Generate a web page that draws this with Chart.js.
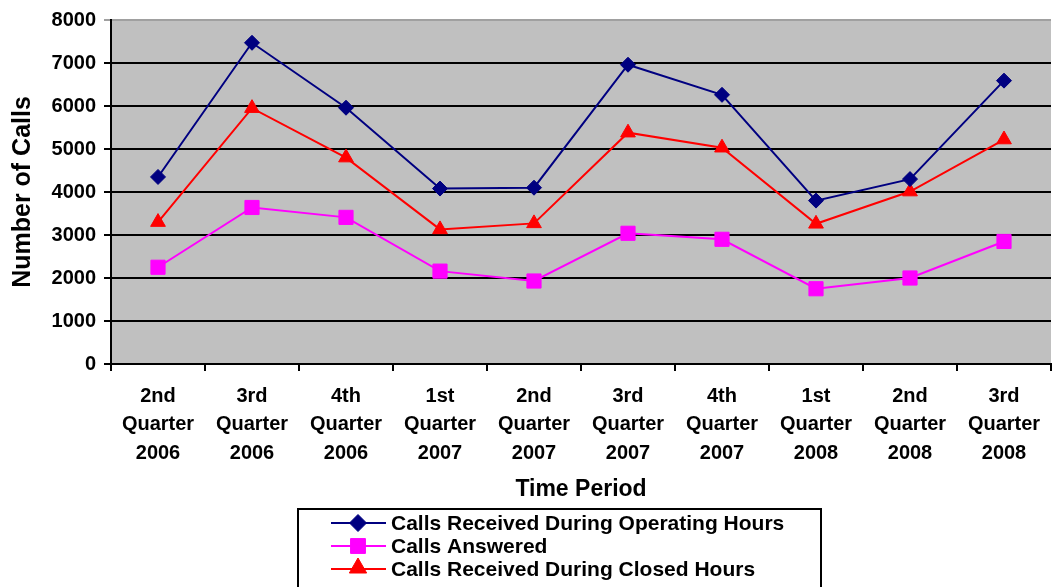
<!DOCTYPE html>
<html><head><meta charset="utf-8">
<script src="https://cdn.jsdelivr.net/npm/chart.js@4"></script>
<style>html,body{margin:0;padding:0;background:#fff;}canvas{display:block}</style>
</head>
<body>
<canvas id="c" width="1052" height="587"></canvas>
<script>
const categories = [
  ["2nd","Quarter","2006"],["3rd","Quarter","2006"],["4th","Quarter","2006"],
  ["1st","Quarter","2007"],["2nd","Quarter","2007"],["3rd","Quarter","2007"],
  ["4th","Quarter","2007"],["1st","Quarter","2008"],["2nd","Quarter","2008"],
  ["3rd","Quarter","2008"]
];
const operatingHours = [4350, 7470, 5960, 4080, 4100, 6960, 6260, 3800, 4300, 6590];
const callsAnswered  = [2250, 3640, 3410, 2160, 1930, 3040, 2900, 1750, 2000, 2850];
const closedHours    = [3300, 5950, 4800, 3130, 3270, 5380, 5030, 3260, 4010, 5220];
const seriesNames = ["Calls Received During Operating Hours","Calls Answered","Calls Received During Closed Hours"];
const yMin = 0, yMax = 8000, yStep = 1000;

const FONT = "'Liberation Sans', Arial, sans-serif";

const bgPlugin = {
  id: 'bgPlugin',
  beforeDraw(chart) {
    const {ctx, chartArea: a} = chart;
    ctx.save();
    ctx.fillStyle = '#c0c0c0';
    ctx.fillRect(a.left, a.top, a.right - a.left, a.bottom - a.top);
    ctx.restore();
  }
};

function marker(ctx, style, r, x, y) {
  ctx.beginPath();
  if (style === 'rectRot') {
    ctx.moveTo(x, y - r); ctx.lineTo(x + r, y); ctx.lineTo(x, y + r); ctx.lineTo(x - r, y); ctx.closePath();
  } else if (style === 'rect') {
    const s = r * Math.SQRT1_2;
    ctx.rect(x - s, y - s, 2 * s, 2 * s);
  } else if (style === 'triangle') {
    ctx.moveTo(x, y - r); ctx.lineTo(x + r * 0.866, y + r * 0.5); ctx.lineTo(x - r * 0.866, y + r * 0.5); ctx.closePath();
  }
  ctx.fill();
}

const legendMarkerRadius = {rectRot: 8.5, rect: 10.5, triangle: 10};

const legendPlugin = {
  id: 'legendPlugin',
  afterDraw(chart) {
    const ctx = chart.ctx;
    ctx.save();
    ctx.lineWidth = 2;
    ctx.strokeStyle = '#000';
    ctx.strokeRect(298, 509, 523, 90);
    chart.data.datasets.forEach((ds, i) => {
      const y = 523 + i * 23;
      ctx.strokeStyle = ds.borderColor;
      ctx.lineWidth = 2;
      ctx.beginPath(); ctx.moveTo(331, y); ctx.lineTo(386, y); ctx.stroke();
      ctx.fillStyle = ds.backgroundColor;
      const r = legendMarkerRadius[ds.pointStyle];
      const yy = ds.pointStyle === 'triangle' ? y - 1 : y;
      if (Chart.helpers && Chart.helpers.drawPoint) {
        ctx.strokeStyle = ds.borderColor; ctx.lineWidth = 1;
        Chart.helpers.drawPoint(ctx, {pointStyle: ds.pointStyle, radius: r, borderWidth: 1, rotation: 0}, 358, yy);
      } else {
        marker(ctx, ds.pointStyle, r, 358, yy);
      }
      ctx.fillStyle = '#000';
      ctx.font = "bold 21px " + FONT;
      ctx.textBaseline = 'middle';
      ctx.textAlign = 'left';
      ctx.fillText(ds.label, 391, y + 1);
    });
    ctx.restore();
  }
};

new Chart(document.getElementById('c'), {
  type: 'line',
  data: {
    labels: categories,
    datasets: [
      {label: seriesNames[0], data: operatingHours, borderColor: '#000080', backgroundColor: '#000080',
       borderWidth: 2, pointStyle: 'rectRot', pointRadius: 7.5, pointHoverRadius: 7.5, pointBorderWidth: 1, tension: 0},
      {label: seriesNames[1], data: callsAnswered, borderColor: '#ff00ff', backgroundColor: '#ff00ff',
       borderWidth: 2, pointStyle: 'rect', pointRadius: 10, pointHoverRadius: 10, pointBorderWidth: 1, tension: 0},
      {label: seriesNames[2], data: closedHours, borderColor: '#ff0000', backgroundColor: '#ff0000',
       borderWidth: 2, pointStyle: 'triangle', pointRadius: 8.5, pointHoverRadius: 8.5, pointBorderWidth: 1, tension: 0}
    ]
  },
  options: {
    responsive: false,
    animation: false,
    devicePixelRatio: 1,
    layout: {autoPadding: false, padding: {left: 0, top: 19, right: 1, bottom: 82}},
    plugins: {legend: {display: false}, tooltip: {enabled: false}},
    scales: {
      x: {
        offset: true,
        grid: {offset: true, drawOnChartArea: false, drawTicks: true, tickLength: 7, color: '#000', lineWidth: 2},
        border: {display: true, color: '#000', width: 2},
        ticks: {color: '#000', font: {family: FONT, size: 20, weight: 'bold', lineHeight: 1.43}, padding: 11, maxRotation: 0, autoSkip: false},
        title: {display: true, text: 'Time Period', color: '#000', font: {family: FONT, size: 23, weight: 'bold'}, padding: {top: 0, bottom: 2}},
        afterFit(s) { s.height = 141; s.paddingRight = 0; s.paddingLeft = 0; }
      },
      y: {
        min: yMin, max: yMax,
        grid: {drawTicks: true, tickLength: 7, lineWidth: 2,
               color: (c) => (c.tick && c.tick.value === yMax) ? '#a0a0a0' : '#000'},
        border: {display: true, color: '#000', width: 2},
        ticks: {stepSize: yStep, color: '#000', font: {family: FONT, size: 20, weight: 'bold'}, padding: 8,
                callback: (v) => String(v)},
        title: {display: true, text: 'Number of Calls', color: '#000', font: {family: FONT, size: 25, weight: 'bold'}, padding: {top: 8, bottom: 4}},
        afterFit(s) { s.width = 111; }
      }
    }
  },
  plugins: [bgPlugin, legendPlugin]
});
</script>
</body></html>
